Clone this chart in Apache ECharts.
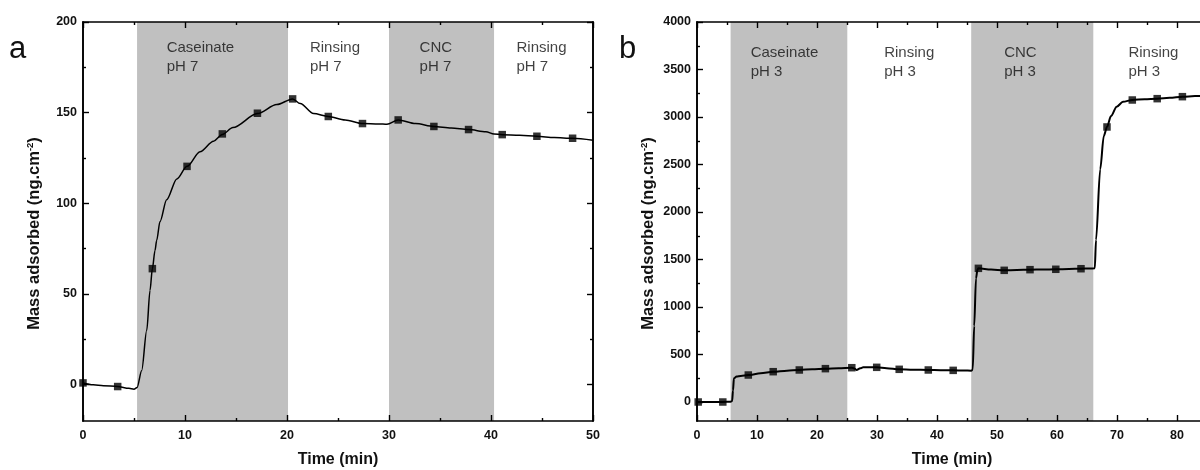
<!DOCTYPE html>
<html>
<head>
<meta charset="utf-8">
<script src="https://cdn.jsdelivr.net/npm/echarts@6/dist/echarts.min.js"></script>
<style>
html,body{margin:0;padding:0;background:#fff;}
#chart{width:1200px;height:470px;}
</style>
</head>
<body>
<div id="chart"></div>
<script>
// ---------- Panel a (pH 7) ----------
const timeA = [0, 1, 2, 3.4, 4.5, 5.0, 5.3, 5.75, 6.25, 6.57, 6.8, 7.06, 7.22, 7.55, 8.2, 9.2, 10.2, 11.47, 12.8, 13.66, 14.7, 17.1, 19.0, 20.55, 21.3, 22.6, 24.05, 25.7, 27.4, 29.0, 29.8, 30.9, 32.6, 34.4, 36.1, 37.8, 39.5, 40.3, 41.1, 42.8, 44.5, 46.2, 48.0, 50];
const massA = [1, 0, -0.5, -1, -2, -2.5, -1.5, 7.7, 30, 52, 64, 74, 79.5, 90, 102, 113.5, 120.4, 128.5, 134.3, 138.0, 141.8, 149.5, 154.5, 157.6, 155, 149.5, 147.9, 146, 144, 143.8, 143.6, 146, 144, 142.4, 141.5, 140.7, 139.5, 138.2, 137.9, 137.5, 137, 136.3, 135.9, 134.8];
const markerTimeA = [0, 3.4, 6.8, 10.2, 13.66, 17.1, 20.55, 24.05, 27.4, 30.9, 34.4, 37.8, 41.1, 44.5, 48.0];
const markerMassA = [1, -1, 64, 120.4, 138.3, 149.7, 157.6, 147.9, 144, 146, 142.4, 140.7, 137.9, 137, 135.9];
const bandsA = [[5.3, 20.1], [30.0, 40.3]];
const stageLabelsA = ['Caseinate\npH 7', 'Rinsing\npH 7', 'CNC\npH 7', 'Rinsing\npH 7'];
const stageTimeA = [8.2, 22.25, 33.0, 42.5];
const yTicksA = [0, 50, 100, 150, 200];
const yMinorA = [25, 75, 125, 175];

// ---------- Panel b (pH 3) ----------
const timeB = [0, 2, 4.3, 5.6, 5.85, 6.0, 6.15, 6.6, 7.3, 8.55, 10.6, 12.7, 15, 17.05, 19.2, 21.4, 23.6, 25.8, 26.3, 26.6, 27.2, 27.7, 29, 29.95, 31.6, 33.7, 36, 38.55, 40.6, 42.7, 44.5, 45.7, 45.95, 46.2, 46.5, 46.75, 46.9, 49, 51.2, 53.3, 55.5, 57.6, 59.8, 62, 64.0, 65.5, 66.3, 66.5, 67.2, 67.8, 68.33, 69.0, 69.95, 71, 72.55, 74.6, 76.7, 78.8, 80.9, 83, 85];
const massB = [0, 0, 0, 3, 10, 120, 250, 268, 275, 284, 302, 319, 330, 337, 345, 351, 356, 361, 350, 337, 355, 365, 366, 365, 356, 344, 340, 337, 335, 333, 332, 330, 340, 800, 1300, 1395, 1407, 1395, 1386, 1390, 1393, 1395, 1397, 1400, 1403, 1405, 1408, 1705, 2450, 2800, 2895, 3010, 3108, 3160, 3179, 3187, 3193, 3203, 3214, 3220, 3225];
const markerTimeB = [0.2, 4.3, 8.55, 12.7, 17.05, 21.4, 25.8, 29.95, 33.7, 38.55, 42.7, 46.9, 51.2, 55.5, 59.8, 64.0, 68.33, 72.55, 76.7, 80.9];
const markerMassB = [0, 0, 284, 319, 337, 351, 361, 365, 344, 337, 333, 1407, 1386, 1393, 1397, 1403, 2895, 3179, 3193, 3214];
const bandsB = [[5.6, 25.05], [45.7, 66.05]];
const stageLabelsB = ['Caseinate\npH 3', 'Rinsing\npH 3', 'CNC\npH 3', 'Rinsing\npH 3'];
const stageTimeB = [8.95, 31.2, 51.2, 71.9];
const yTicksB = [0, 500, 1000, 1500, 2000, 2500, 3000, 3500, 4000];
const yMinorB = [250, 750, 1250, 1750, 2250, 2750, 3250, 3750];

const FONT = 'Liberation Sans, Arial, Helvetica, sans-serif';
const zip = (a, b) => a.map((v, i) => [v, b[i]]);
const lineStyleAxis = { color: '#000', width: 1.6 };
const plain = v => String(v);

function xAxes(gridIndex, max) {
  const base = {
    type: 'value', gridIndex, min: 0, max, interval: 10, z: 5,
    axisLine: { show: true, onZero: false, lineStyle: lineStyleAxis },
    axisTick: { show: true, inside: true, length: 6, lineStyle: { color: '#000', width: 1.4 } },
    minorTick: { show: true, splitNumber: 2, length: 3, lineStyle: { color: '#000', width: 1.4 } },
    splitLine: { show: false }
  };
  return [
    Object.assign({}, base, {
      position: 'bottom',
      name: 'Time (min)', nameLocation: 'middle', nameGap: 31,
      nameTextStyle: { fontFamily: FONT, fontSize: 16, fontWeight: 'bold', color: '#111' },
      axisLabel: { show: true, margin: 8, formatter: plain, fontFamily: FONT, fontSize: 12.5, fontWeight: 'bold', color: '#111' }
    }),
    Object.assign({}, base, { position: 'top', axisLabel: { show: false } })
  ];
}

function yAxes(gridIndex, min, max, major, minor) {
  const mk = (pos, ticks, len, labels) => ({
    type: 'value', gridIndex, min, max, position: pos, z: 5,
    axisLine: { show: true, onZero: false, lineStyle: lineStyleAxis },
    axisTick: { show: true, inside: true, length: len, customValues: ticks, lineStyle: { color: '#000', width: 1.4 } },
    axisLabel: labels ? { show: true, customValues: major, formatter: plain, margin: 6, fontFamily: FONT, fontSize: 12.5, fontWeight: 'bold', color: '#111' } : { show: false },
    splitLine: { show: false }
  });
  const left = mk('left', major, 6, true);
  left.name = '{b|Mass adsorbed (ng.cm}{s|-2}{b|)}';
  left.nameLocation = 'middle';
  left.nameGap = 40;
  left.nameRotate = 90;
  left.nameTextStyle = {
    padding: [0, 24, 0, 0],
    rich: {
      b: { fontFamily: FONT, fontSize: 16.5, fontWeight: 'bold', color: '#111', lineHeight: 18 },
      s: { fontFamily: FONT, fontSize: 9.5, fontWeight: 'bold', color: '#111', verticalAlign: 'top', lineHeight: 18 }
    }
  };
  return [left, mk('left', minor, 3, false), mk('right', major, 6, false), mk('right', minor, 3, false)];
}

function panelSeries(xi, yi, time, mass, mt, mm, bands, labels, labelT, labelY, lw) {
  return [
    {
      type: 'line', xAxisIndex: xi, yAxisIndex: yi,
      data: zip(time, mass), showSymbol: false, smooth: 0.3, smoothMonotone: 'x',
      lineStyle: { color: '#000', width: lw }, z: 3, silent: true,
      markArea: {
        silent: true,
        itemStyle: { color: '#c0c0c0' },
        data: bands.map(b => [{ xAxis: b[0] }, { xAxis: b[1] }])
      }
    },
    {
      type: 'scatter', xAxisIndex: xi, yAxisIndex: yi,
      data: zip(mt, mm), symbol: 'rect', symbolSize: 7.5,
      itemStyle: { color: '#000' }, z: 4, silent: true
    },
    {
      type: 'scatter', xAxisIndex: xi, yAxisIndex: yi,
      data: labels.map((t, i) => [labelT[i], labelY, t]),
      symbolSize: 0, silent: true, z: 4,
      label: {
        show: true, position: [0, 0], align: 'left', verticalAlign: 'top',
        formatter: p => p.data[2],
        fontFamily: FONT, fontSize: 15, lineHeight: 19, color: '#111'
      }
    }
  ];
}

const chart = echarts.init(document.getElementById('chart'), null, { renderer: 'canvas' });
chart.setOption({
  backgroundColor: '#fff',
  animation: false,
  grid: [
    { left: 83, top: 22, width: 510, height: 399, outerBoundsMode: 'none', containLabel: false },
    { left: 697, top: 22, width: 510, height: 399, outerBoundsMode: 'none', containLabel: false }
  ],
  xAxis: [].concat(xAxes(0, 50), xAxes(1, 85)),
  yAxis: [].concat(yAxes(0, -20, 200, yTicksA, yMinorA), yAxes(1, -200, 4000, yTicksB, yMinorB)),
  graphic: [
    { type: 'text', left: 9, top: 34, style: { text: 'a', fontFamily: FONT, fontSize: 31, fill: '#111' } },
    { type: 'text', left: 619, top: 34, style: { text: 'b', fontFamily: FONT, fontSize: 31, fill: '#111' } }
  ],
  series: [].concat(
    panelSeries(0, 0, timeA, massA, markerTimeA, markerMassA, bandsA, stageLabelsA, stageTimeA, 191, 1.5),
    panelSeries(2, 4, timeB, massB, markerTimeB, markerMassB, bandsB, stageLabelsB, stageTimeB, 3770, 2)
  )
});
</script>
</body>
</html>
